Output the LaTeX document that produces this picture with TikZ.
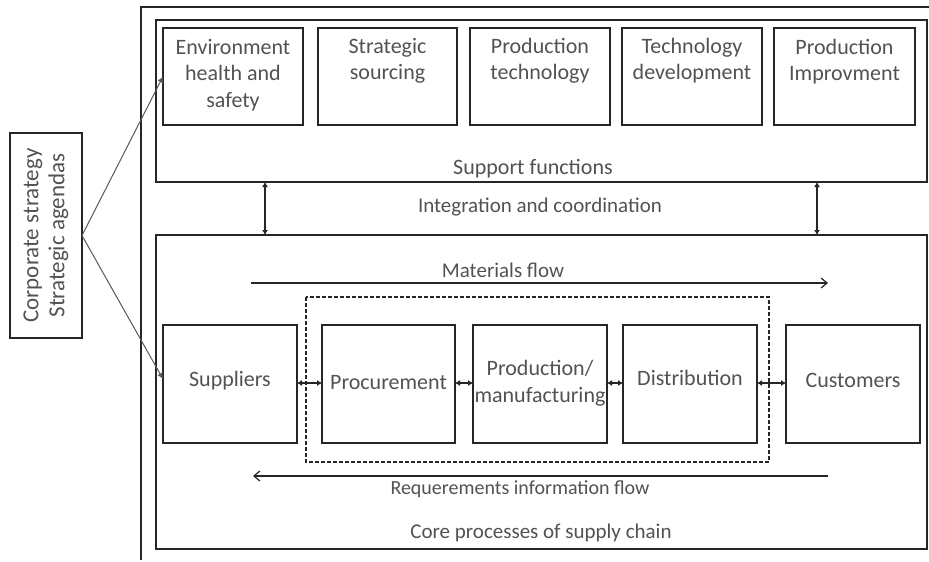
\documentclass[tikz,border=0pt]{standalone}
\usepackage{fontspec}
\setmainfont{Carlito}
\usetikzlibrary{arrows.meta,calc}
\definecolor{txt}{gray}{0.32}
\definecolor{ln}{gray}{0.15}
\tikzset{
  box/.style={draw=ln,line width=1.7pt,inner sep=0pt,outer sep=0pt},
  lbl/.style={text=txt,font=\fontsize{22}{26.5}\selectfont,align=center,inner sep=0pt},
  slbl/.style={lbl,font=\fontsize{21}{25}\selectfont},
  flow/.style={draw=ln,line width=1.2pt,-{Straight Barb[length=6pt,width=10pt]}},
  dbl/.style={draw=ln,line width=1.4pt,{Latex[length=5pt,width=6pt]}-{Latex[length=5pt,width=6pt]}},
  link/.style={draw=gray!70!black,line width=1pt,-{Latex[length=6pt,width=6pt]}}
}
\newcommand{\rbox}[5]{\node[box,minimum width=#3-#1,minimum height=#4-#2] (#5) at ({(#1+#3)/2},{(#2+#4)/2}) {};}
\begin{document}
\begin{tikzpicture}[x=1pt,y=-1pt]
\useasboundingbox (0,0) rectangle (929,562);
% outer frame
\draw[ln,line width=1.6pt] (929,7) -- (141,7) -- (141,560);
% support box
\rbox{156}{20}{927}{182}{sup}
\rbox{163}{28}{303}{125}{b1}
\rbox{318}{28}{457}{125}{b2}
\rbox{470}{28}{610}{125}{b3}
\rbox{622}{28}{762}{125}{b4}
\rbox{774}{28}{915}{125}{b5}
\node[lbl,anchor=north] (t1) at ($(b1.north)+(0,11)$) {Environment\\health and\\safety};
\node[lbl,anchor=north] (t2) at ($(b2.north)+(0,10)$) {Strategic\\sourcing};
\node[lbl,anchor=north] (t3) at ($(b3.north)+(0,10)$) {Production\\technology};
\node[lbl,anchor=north] (t4) at ($(b4.north)+(0,10)$) {Technology\\development};
\node[lbl,anchor=north] (t5) at ($(b5.north)+(0,11)$) {Production\\Improvment};
\node[lbl] (supl) at (533,169) {Support functions};
\node[slbl] (integ) at (540,207) {Integration and coordination};
% core box
\rbox{156}{235}{927}{549}{core}
\node[slbl] (corel) at (541,533) {Core processes of supply chain};
\coordinate (i1) at (265,0);
\coordinate (i2) at (817,0);
\draw[dbl] (sup.south -| i1) -- (core.north -| i1);
\draw[dbl] (sup.south -| i2) -- (core.north -| i2);
% flows
\coordinate (mf1) at (251,283);
\coordinate (mf2) at (828,283);
\draw[flow] (mf1) -- (mf2);
\node[slbl] (mfl) at (503,270) {Materials flow};
\coordinate (rf1) at (828,476);
\coordinate (rf2) at (253,476);
\draw[flow] (rf1) -- (rf2);
\node[lbl,font=\fontsize{20}{24}\selectfont] (rfl) at (520,489) {Requerements information flow};
% dashed box
\draw[ln,line width=1.2pt,dash pattern=on 4pt off 2pt] (306,297) rectangle (769,462);
% core boxes
\rbox{163}{325}{297}{443}{c1}
\rbox{322}{325}{455}{443}{c2}
\rbox{473}{325}{607}{443}{c3}
\rbox{623}{325}{757}{443}{c4}
\rbox{786}{325}{920}{443}{c5}
\node[lbl] at ($(c1.center)+(0,-3)$) {Suppliers};
\node[lbl] at ($(c2.center)+(0,-1)$) {Procurement};
\node[lbl] at ($(c3.center)+(0,-1)$) {Production/\\manufacturing};
\node[lbl] at ($(c4.center)+(0,-6)$) {Distribution};
\node[lbl] at ($(c5.center)+(0,-4)$) {Customers};
\draw[dbl] ($(c1.east)+(0,-1)$) -- ($(c2.west)+(0,-1)$);
\draw[dbl] ($(c2.east)+(0,-1)$) -- ($(c3.west)+(0,-1)$);
\draw[dbl] ($(c3.east)+(0,-1)$) -- ($(c4.west)+(0,-1)$);
\draw[dbl] ($(c4.east)+(0,-1)$) -- ($(c5.west)+(0,-1)$);
% strategy box
\rbox{10}{133}{82}{338}{strat}
\node[lbl,rotate=90,font=\fontsize{23}{26}\selectfont] (stl) at (strat.center) {Corporate strategy\\Strategic agendas};
\draw[link] (strat.east) -- (b1.west);
\draw[link] (strat.east) -- ($(c1.west)+(0,-5)$);
\end{tikzpicture}
\end{document}
